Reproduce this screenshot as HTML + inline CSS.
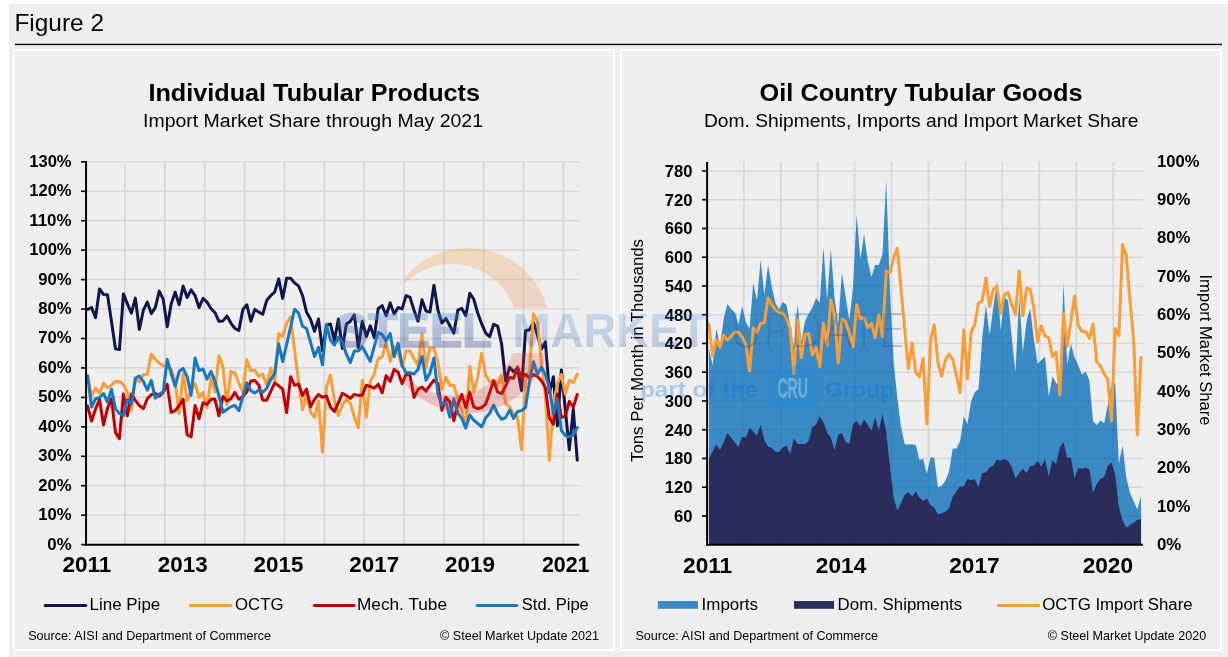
<!DOCTYPE html>
<html lang="en"><head><meta charset="utf-8"><title>Figure 2</title>
<style>
html,body{margin:0;padding:0;background:#fff;}
body{width:1228px;height:657px;overflow:hidden;position:relative;font-family:"Liberation Sans",Arial,sans-serif;}
svg{position:absolute;left:0;top:0;display:block}
text{font-family:"Liberation Sans",Arial,sans-serif;fill:#000}
.b{font-weight:bold}
.grid line{stroke:#d8d8d8;stroke-width:1.6}
.grid line.v{stroke-width:1.9}
.ax{stroke:#000;stroke-width:2;fill:none}
.tk{stroke:#000;stroke-width:1.6}
</style></head><body>
<svg width="1228" height="657" viewBox="0 0 1228 657">
<rect x="9" y="4" width="1219" height="653" fill="#eeeeee"/>
<rect x="15" y="43.75" width="1207" height="1.35" fill="#000"/>
<rect x="14" y="50" width="600" height="600" fill="#eeeeee" stroke="#fff" stroke-width="2"/>
<rect x="621" y="50" width="600" height="600" fill="#eeeeee" stroke="#fff" stroke-width="2"/>

<text font-size="23.6" x="14.4" y="31" textLength="89.7" lengthAdjust="spacingAndGlyphs">Figure 2</text>
<g class="grid">
<line x1="86.05" y1="515.06" x2="579.2" y2="515.06"/>
<line x1="86.05" y1="485.62" x2="579.2" y2="485.62"/>
<line x1="86.05" y1="456.18" x2="579.2" y2="456.18"/>
<line x1="86.05" y1="426.74" x2="579.2" y2="426.74"/>
<line x1="86.05" y1="397.3" x2="579.2" y2="397.3"/>
<line x1="86.05" y1="367.86" x2="579.2" y2="367.86"/>
<line x1="86.05" y1="338.42" x2="579.2" y2="338.42"/>
<line x1="86.05" y1="308.98" x2="579.2" y2="308.98"/>
<line x1="86.05" y1="279.54" x2="579.2" y2="279.54"/>
<line x1="86.05" y1="250.1" x2="579.2" y2="250.1"/>
<line x1="86.05" y1="220.66" x2="579.2" y2="220.66"/>
<line x1="86.05" y1="191.22" x2="579.2" y2="191.22"/>
<line x1="86.05" y1="161.78" x2="579.2" y2="161.78"/>
<line class="v" x1="125.05" y1="161.1" x2="125.05" y2="544.8"/>
<line class="v" x1="164.9" y1="161.1" x2="164.9" y2="544.8"/>
<line class="v" x1="204.75" y1="161.1" x2="204.75" y2="544.8"/>
<line class="v" x1="244.6" y1="161.1" x2="244.6" y2="544.8"/>
<line class="v" x1="284.45" y1="161.1" x2="284.45" y2="544.8"/>
<line class="v" x1="324.3" y1="161.1" x2="324.3" y2="544.8"/>
<line class="v" x1="364.15" y1="161.1" x2="364.15" y2="544.8"/>
<line class="v" x1="404" y1="161.1" x2="404" y2="544.8"/>
<line class="v" x1="443.85" y1="161.1" x2="443.85" y2="544.8"/>
<line class="v" x1="483.7" y1="161.1" x2="483.7" y2="544.8"/>
<line class="v" x1="523.55" y1="161.1" x2="523.55" y2="544.8"/>
<line class="v" x1="563.4" y1="161.1" x2="563.4" y2="544.8"/>
</g>
<g fill="none" stroke-linejoin="round" stroke-linecap="round" stroke-width="3">
<polyline stroke="#10154a" points="87.6,309.4 91.58,307.6 95.56,317.6 99.54,289 103.52,294.4 107.5,294.8 111.49,321.6 115.47,348.7 119.45,349.6 123.43,293.9 127.41,303.9 131.39,313.1 135.37,298.1 139.35,329.5 143.33,310.3 147.31,302.1 151.3,313.6 155.28,307.6 159.26,291.1 163.24,299.4 167.22,326.8 171.2,303.9 175.18,292.1 179.16,304.8 183.14,286 187.12,297.5 191.11,289.9 195.09,295.7 199.07,307.6 203.05,298.4 207.03,302.1 211.01,308.5 214.99,312.7 218.97,321.3 222.95,320.9 226.94,316.1 230.92,323.1 234.9,328.5 238.88,330.4 242.86,309.4 246.84,304.8 250.82,321.2 254.8,309.4 258.78,312.1 262.76,314.3 266.75,300.2 270.73,295.7 274.71,292 278.69,278.9 282.67,298.4 286.65,278.3 290.63,278.3 294.61,282.9 298.59,286 302.57,295.7 306.55,312.1 310.54,319.4 314.52,331.3 318.5,319 322.48,350.5 326.46,324.9 330.44,324 334.42,340.4 338.4,319 342.38,348.6 346.37,324 350.35,321.2 354.33,314.8 358.31,347.7 362.29,321.2 366.27,336.7 370.25,325.8 374.23,337.6 378.21,308.4 382.19,305.7 386.17,315.7 390.16,302.9 394.14,313.9 398.12,307.5 402.1,308.9 406.08,295.6 410.06,297.4 414.04,310.2 418.02,321.2 422,299.8 425.99,311.1 429.97,312.1 433.95,285.2 437.93,310.2 441.91,323 445.89,318.4 449.87,325.8 453.85,333.1 457.83,310.2 461.81,308.4 465.79,315.7 469.78,293.2 473.76,299.3 477.74,313 481.72,323.9 485.7,333.1 489.68,336.7 493.66,324.3 497.64,326.1 501.62,344 505.61,381 509.59,367.3 513.57,371.7 517.55,368.4 521.53,390.5 525.51,330.8 529.49,329.7 533.47,322.3 537.45,335 541.43,349.3 545.41,341.9 549.4,393 553.38,376.8 557.36,425.8 561.34,370 565.32,409.5 569.3,449.8 573.28,409.3 577.26,460.1"/>
<polyline stroke="#f99d38" points="87.6,375.8 91.58,396 95.56,387.8 99.54,393.5 103.52,383.2 107.5,387.8 111.49,385.2 115.47,381.5 119.45,381.5 123.43,384.4 127.41,392.4 131.39,410.6 135.37,379.2 139.35,381.8 143.33,374.7 147.31,374.1 151.3,354.1 155.28,359.3 159.26,363.3 163.24,365.8 167.22,367.3 171.2,369.5 175.18,381 179.16,413.5 183.14,373.5 187.12,400.9 191.11,390.7 195.09,383.2 199.07,397.5 203.05,392.4 207.03,407.8 211.01,378.1 214.99,391.8 218.97,355.8 222.95,366.7 226.94,404.9 230.92,371.3 234.9,373 238.88,383.2 242.86,392.4 246.84,359.8 250.82,370.7 254.8,370.1 258.78,376.4 262.76,374 266.75,385 270.73,368 274.71,381.3 278.69,333.7 282.67,336.2 286.65,323.2 290.63,316.8 294.61,350 298.59,382.4 302.57,409.8 306.55,393.8 310.54,412.1 314.52,417.4 318.5,401.2 322.48,452.1 326.46,387 330.44,375 334.42,400.5 338.4,415.5 342.38,405.2 346.37,399.3 350.35,403.2 354.33,417 358.31,427.8 362.29,380.2 366.27,417.3 370.25,381.4 374.23,374.5 378.21,358.5 382.19,356.8 386.17,342.6 390.16,361.4 394.14,346 398.12,352.8 402.1,366.5 406.08,351.1 410.06,351.1 414.04,358.5 418.02,365.4 422,334 425.99,368.2 429.97,347.1 433.95,348.3 437.93,362.2 441.91,389 445.89,377.3 449.87,385.5 453.85,385.3 457.83,398.4 461.81,410.9 465.79,425.8 469.78,366.4 473.76,392.1 477.74,377.3 481.72,353.2 485.7,375 489.68,381.8 493.66,380.7 497.64,384.7 501.62,375.9 505.61,403.3 509.59,406.7 513.57,413.5 517.55,417.3 521.53,449.8 525.51,381 529.49,370 533.47,313.7 537.45,321.1 541.43,362 545.41,396 549.4,460.6 553.38,404.8 557.36,384.2 561.34,374.5 565.32,394 569.3,380.3 573.28,382.5 577.26,374"/>
<polyline stroke="#c00000" points="87.6,406.1 91.58,421 95.56,409 99.54,399.3 103.52,425 107.5,408.4 111.49,398.7 115.47,432.4 119.45,438.7 123.43,394.1 127.41,415.8 131.39,394.1 135.37,400.4 139.35,405.5 143.33,408.7 147.31,398.7 151.3,394.7 155.28,393.2 159.26,396.1 163.24,392.4 167.22,384.4 171.2,412.4 175.18,410.7 179.16,405.5 183.14,399.3 187.12,434.7 191.11,436.9 195.09,405.5 199.07,418.7 203.05,402.7 207.03,404.4 211.01,399.3 214.99,399.3 218.97,415.8 222.95,396.4 226.94,401 230.92,398.7 234.9,392.4 238.88,399.3 242.86,396.4 246.84,391.8 250.82,381 254.8,380.4 258.78,385 262.76,400.2 266.75,400.2 270.73,391.5 274.71,383 278.69,385.8 282.67,389 286.65,412.6 290.63,376.7 294.61,385.3 298.59,384.1 302.57,395.5 306.55,389 310.54,406.9 314.52,399.5 318.5,394.4 322.48,397.2 326.46,396.1 330.44,406.9 334.42,411.5 338.4,402.9 342.38,393.2 346.37,395.5 350.35,398.4 354.33,394.4 358.31,395.4 362.29,395.1 366.27,385.4 370.25,386.5 374.23,388.2 378.21,384.2 382.19,392.8 386.17,375.7 390.16,381.4 394.14,369.4 398.12,372.2 402.1,383.7 406.08,374 410.06,375.7 414.04,397.4 418.02,389.4 422,387.1 425.99,391.1 429.97,385.3 433.95,380.1 437.93,383.5 441.91,410.4 445.89,397.3 449.87,401.9 453.85,420.6 457.83,404.1 461.81,394.4 465.79,407.5 469.78,392.1 473.76,406.9 477.74,408.7 481.72,407.5 485.7,404.1 489.68,392.7 493.66,380.7 497.64,392.1 501.62,393.6 505.61,386.2 509.59,377.3 513.57,378.4 517.55,367 521.53,378.4 525.51,374.4 529.49,377.9 533.47,374.5 537.45,376.5 541.43,380.8 545.41,387.7 549.4,417.9 553.38,424.2 557.36,393.9 561.34,417.4 565.32,416.2 569.3,401.4 573.28,407.1 577.26,394.5"/>
<polyline stroke="#1777c0" points="87.6,375.8 91.58,407.2 95.56,398.7 99.54,397.7 103.52,393.5 107.5,402.1 111.49,389.3 115.47,408.9 119.45,413.5 123.43,415.5 127.41,399.6 131.39,403.8 135.37,378.3 139.35,376.1 143.33,381.3 147.31,390.1 151.3,380.4 155.28,398.1 159.26,394.1 163.24,391.8 167.22,359.3 171.2,373.5 175.18,386.4 179.16,371.5 183.14,368.4 187.12,376.4 191.11,395.2 195.09,358.1 199.07,370.7 203.05,369 207.03,379.2 211.01,371.3 214.99,381.5 218.97,395.8 222.95,412.4 226.94,409.5 230.92,406.6 234.9,405.5 238.88,410.6 242.86,396.4 246.84,382.7 250.82,390.7 254.8,392.9 258.78,390.1 262.76,392.2 266.75,388.3 270.73,379.4 274.71,373.8 278.69,344 282.67,361.6 286.65,344.3 290.63,326.8 294.61,309.2 298.59,313.1 302.57,326.3 306.55,328.5 310.54,342.2 314.52,356.5 318.5,347.4 322.48,364.8 326.46,324.5 330.44,340 334.42,345.1 338.4,337.1 342.38,342.2 346.37,354.2 350.35,362.6 354.33,351 358.31,351 362.29,346.6 366.27,354 370.25,361.4 374.23,346.6 378.21,332.3 382.19,334.6 386.17,340.8 390.16,333.4 394.14,356.8 398.12,343.1 402.1,365.4 406.08,372.8 410.06,372.8 414.04,374 418.02,369.4 422,356.3 425.99,380.2 429.97,373 433.95,358 437.93,393.8 441.91,405.2 445.89,401.8 449.87,417.2 453.85,399 457.83,413.2 461.81,418.4 465.79,428.1 469.78,414.9 473.76,420.1 477.74,423.5 481.72,426.9 485.7,417.8 489.68,413.2 493.66,405.2 497.64,413.8 501.62,419.3 505.61,417.6 509.59,410.1 513.57,418.4 517.55,411.5 521.53,410.6 525.51,407.5 529.49,381.7 533.47,361.8 537.45,374.5 541.43,367.3 545.41,374.5 549.4,387.7 553.38,413.9 557.36,399 561.34,430.4 565.32,435.5 569.3,436.7 573.28,435 577.26,427.5"/>
</g>
<line class="ax" x1="86.05" y1="161.1" x2="86.05" y2="545.8"/>
<line class="ax" x1="85.05" y1="544.8" x2="579.2" y2="544.8"/>
<line class="tk" x1="81.1" y1="544.6" x2="86" y2="544.6"/>
<text class="b" font-size="16" text-anchor="end" x="71.6" y="549.5" textLength="24.3" lengthAdjust="spacingAndGlyphs">0%</text>
<line class="tk" x1="81.1" y1="515.16" x2="86" y2="515.16"/>
<text class="b" font-size="16" text-anchor="end" x="71.6" y="520.06" textLength="33.4" lengthAdjust="spacingAndGlyphs">10%</text>
<line class="tk" x1="81.1" y1="485.72" x2="86" y2="485.72"/>
<text class="b" font-size="16" text-anchor="end" x="71.6" y="490.62" textLength="33.4" lengthAdjust="spacingAndGlyphs">20%</text>
<line class="tk" x1="81.1" y1="456.28" x2="86" y2="456.28"/>
<text class="b" font-size="16" text-anchor="end" x="71.6" y="461.18" textLength="33.4" lengthAdjust="spacingAndGlyphs">30%</text>
<line class="tk" x1="81.1" y1="426.84" x2="86" y2="426.84"/>
<text class="b" font-size="16" text-anchor="end" x="71.6" y="431.74" textLength="33.4" lengthAdjust="spacingAndGlyphs">40%</text>
<line class="tk" x1="81.1" y1="397.4" x2="86" y2="397.4"/>
<text class="b" font-size="16" text-anchor="end" x="71.6" y="402.3" textLength="33.4" lengthAdjust="spacingAndGlyphs">50%</text>
<line class="tk" x1="81.1" y1="367.96" x2="86" y2="367.96"/>
<text class="b" font-size="16" text-anchor="end" x="71.6" y="372.86" textLength="33.4" lengthAdjust="spacingAndGlyphs">60%</text>
<line class="tk" x1="81.1" y1="338.52" x2="86" y2="338.52"/>
<text class="b" font-size="16" text-anchor="end" x="71.6" y="343.42" textLength="33.4" lengthAdjust="spacingAndGlyphs">70%</text>
<line class="tk" x1="81.1" y1="309.08" x2="86" y2="309.08"/>
<text class="b" font-size="16" text-anchor="end" x="71.6" y="313.98" textLength="33.4" lengthAdjust="spacingAndGlyphs">80%</text>
<line class="tk" x1="81.1" y1="279.64" x2="86" y2="279.64"/>
<text class="b" font-size="16" text-anchor="end" x="71.6" y="284.54" textLength="33.4" lengthAdjust="spacingAndGlyphs">90%</text>
<line class="tk" x1="81.1" y1="250.2" x2="86" y2="250.2"/>
<text class="b" font-size="16" text-anchor="end" x="71.6" y="255.1" textLength="42.4" lengthAdjust="spacingAndGlyphs">100%</text>
<line class="tk" x1="81.1" y1="220.76" x2="86" y2="220.76"/>
<text class="b" font-size="16" text-anchor="end" x="71.6" y="225.66" textLength="42.4" lengthAdjust="spacingAndGlyphs">110%</text>
<line class="tk" x1="81.1" y1="191.32" x2="86" y2="191.32"/>
<text class="b" font-size="16" text-anchor="end" x="71.6" y="196.22" textLength="42.4" lengthAdjust="spacingAndGlyphs">120%</text>
<line class="tk" x1="81.1" y1="161.88" x2="86" y2="161.88"/>
<text class="b" font-size="16" text-anchor="end" x="71.6" y="166.78" textLength="42.4" lengthAdjust="spacingAndGlyphs">130%</text>
<text class="b" font-size="21.6" text-anchor="middle" x="87" y="572.2" textLength="48.8" lengthAdjust="spacingAndGlyphs">2011</text>
<text class="b" font-size="21.6" text-anchor="middle" x="182.74" y="572.2" textLength="49.8" lengthAdjust="spacingAndGlyphs">2013</text>
<text class="b" font-size="21.6" text-anchor="middle" x="278.49" y="572.2" textLength="49.8" lengthAdjust="spacingAndGlyphs">2015</text>
<text class="b" font-size="21.6" text-anchor="middle" x="374.23" y="572.2" textLength="49.8" lengthAdjust="spacingAndGlyphs">2017</text>
<text class="b" font-size="21.6" text-anchor="middle" x="469.98" y="572.2" textLength="49.8" lengthAdjust="spacingAndGlyphs">2019</text>
<text class="b" font-size="21.6" text-anchor="middle" x="565.72" y="572.2" textLength="47.6" lengthAdjust="spacingAndGlyphs">2021</text>
<text class="b" font-size="24" x="148.4" y="100.7" textLength="331.61" lengthAdjust="spacingAndGlyphs">Individual Tubular Products</text>
<text font-size="17.6" x="143" y="127.2" textLength="340.01" lengthAdjust="spacingAndGlyphs">Import Market Share through May 2021</text>
<line x1="45.2" y1="605.4" x2="85.8" y2="605.4" stroke="#10154a" stroke-width="3" stroke-linecap="round"/>
<text font-size="16" x="89.6" y="610.2" textLength="70.63" lengthAdjust="spacingAndGlyphs">Line Pipe</text>
<line x1="190.3" y1="605.4" x2="230.8" y2="605.4" stroke="#f99d38" stroke-width="3" stroke-linecap="round"/>
<text font-size="16" x="235" y="610.2" textLength="48.43" lengthAdjust="spacingAndGlyphs">OCTG</text>
<line x1="314.3" y1="605.4" x2="354.1" y2="605.4" stroke="#c00000" stroke-width="3" stroke-linecap="round"/>
<text font-size="16" x="357" y="610.2" textLength="90.02" lengthAdjust="spacingAndGlyphs">Mech. Tube</text>
<line x1="477.1" y1="605.4" x2="516.8" y2="605.4" stroke="#1777c0" stroke-width="3" stroke-linecap="round"/>
<text font-size="16" x="521.8" y="610.2" textLength="67" lengthAdjust="spacingAndGlyphs">Std. Pipe</text>
<text font-size="12.4" x="28.2" y="639.6" textLength="242.8" lengthAdjust="spacingAndGlyphs">Source: AISI and Department of Commerce</text>
<text font-size="12.4" x="440" y="639.6" textLength="159" lengthAdjust="spacingAndGlyphs">© Steel Market Update 2021</text>
<g class="grid">
<line x1="707.1" y1="516" x2="1142.9" y2="516"/>
<line x1="707.1" y1="487.24" x2="1142.9" y2="487.24"/>
<line x1="707.1" y1="458.49" x2="1142.9" y2="458.49"/>
<line x1="707.1" y1="429.73" x2="1142.9" y2="429.73"/>
<line x1="707.1" y1="400.98" x2="1142.9" y2="400.98"/>
<line x1="707.1" y1="372.23" x2="1142.9" y2="372.23"/>
<line x1="707.1" y1="343.47" x2="1142.9" y2="343.47"/>
<line x1="707.1" y1="314.72" x2="1142.9" y2="314.72"/>
<line x1="707.1" y1="285.96" x2="1142.9" y2="285.96"/>
<line x1="707.1" y1="257.21" x2="1142.9" y2="257.21"/>
<line x1="707.1" y1="228.46" x2="1142.9" y2="228.46"/>
<line x1="707.1" y1="199.7" x2="1142.9" y2="199.7"/>
<line x1="707.1" y1="170.95" x2="1142.9" y2="170.95"/>
<line class="v" x1="743.88" y1="161.7" x2="743.88" y2="544.8"/>
<line class="v" x1="780.81" y1="161.7" x2="780.81" y2="544.8"/>
<line class="v" x1="817.74" y1="161.7" x2="817.74" y2="544.8"/>
<line class="v" x1="854.67" y1="161.7" x2="854.67" y2="544.8"/>
<line class="v" x1="891.6" y1="161.7" x2="891.6" y2="544.8"/>
<line class="v" x1="928.53" y1="161.7" x2="928.53" y2="544.8"/>
<line class="v" x1="965.46" y1="161.7" x2="965.46" y2="544.8"/>
<line class="v" x1="1002.39" y1="161.7" x2="1002.39" y2="544.8"/>
<line class="v" x1="1039.32" y1="161.7" x2="1039.32" y2="544.8"/>
<line class="v" x1="1076.25" y1="161.7" x2="1076.25" y2="544.8"/>
<line class="v" x1="1113.18" y1="161.7" x2="1113.18" y2="544.8"/>
</g>
<polygon fill="#3a8ac5" fill-opacity="1" points="708.95,544.8 708.95,347.9 712.64,365.6 716.33,328.5 720.03,345.7 723.72,318.8 727.41,304 731.11,309.1 734.8,312.6 738.49,324.5 742.19,306.3 745.88,322.3 749.57,328.5 753.27,283 756.96,300.3 760.65,260.1 764.34,294.8 768.04,264.7 771.73,286.6 775.42,303.1 779.12,309.5 782.81,301.9 786.5,304.7 790.2,325.5 793.89,347 797.58,304 801.28,342 804.97,321.4 808.66,313.4 812.36,307.7 816.05,298 819.74,303.1 823.44,247.5 827.13,299.7 830.82,249 834.52,297.4 838.21,325 841.9,272.6 845.6,296.3 849.29,320.2 852.98,288 856.68,214.7 860.37,259.5 864.06,233.9 867.76,261 871.45,277 875.14,265 878.83,265 882.53,254 886.22,180 889.91,290 893.61,361.5 897.3,397.5 900.99,426.7 904.69,444.3 908.38,444.6 912.07,444.2 915.77,445 919.46,460 923.15,459 926.85,473.8 930.54,457.6 934.23,457.4 937.93,487.5 941.62,485.7 945.31,481 949.01,472 952.7,448.4 956.39,448.5 960.09,441 963.78,416.7 967.47,424 971.17,401 974.86,392 978.55,389.3 982.24,338 985.94,304.7 989.63,334.9 993.32,307.5 997.02,281 1000.71,330.3 1004.4,297.5 1008.1,300.5 1011.79,338 1015.48,372 1019.18,296.6 1022.87,352.8 1026.56,321 1030.26,308.5 1033.95,340 1037.64,363.8 1041.34,360 1045.03,356.5 1048.72,396.7 1052.42,376.6 1056.11,383 1059.8,386 1063.5,283 1067.19,364.7 1070.88,343.5 1074.58,357.4 1078.27,365.6 1081.96,374.7 1085.66,371.6 1089.35,380.2 1093.04,421.3 1096.73,425 1100.43,420.4 1104.12,423.2 1107.81,404.9 1111.51,384.8 1115.2,383 1118.89,463.8 1122.59,445.5 1126.28,477.5 1129.97,493 1133.67,501.2 1137.36,509.5 1141.05,495.8 1141.05,544.8"/>
<polygon fill="#2b2e5c" fill-opacity="1" points="708.95,544.8 708.95,458.5 712.64,451.2 716.33,444.4 720.03,449.9 723.72,442 727.41,432.9 731.11,437.5 734.8,442.4 738.49,447 742.19,436.6 745.88,437.9 749.57,427.8 753.27,431.6 756.96,435.7 760.65,424.5 764.34,440.2 768.04,446.6 771.73,448 775.42,451.7 779.12,452.1 782.81,447.5 786.5,445.7 790.2,453.9 793.89,438.4 797.58,443.9 801.28,443.9 804.97,443.9 808.66,441.1 812.36,426.9 816.05,424.7 819.74,416.8 823.44,422 827.13,432.4 830.82,437.5 834.52,450.3 838.21,434.7 841.9,432.9 845.6,441.7 849.29,443.9 852.98,424.3 856.68,421 860.37,426.6 864.06,419.4 867.76,424.9 871.45,430.4 875.14,417.6 878.83,430.4 882.53,414 886.22,432 889.91,466.5 893.61,497.6 897.3,510.4 900.99,503 904.69,494.8 908.38,492 912.07,496.7 915.77,491.2 919.46,497.6 923.15,500.9 926.85,498.5 930.54,504.9 934.23,507.6 937.93,514.6 941.62,513 945.31,511.8 949.01,508.5 952.7,496.7 956.39,491.2 960.09,486.3 963.78,486.6 967.47,479 971.17,480.2 974.86,479.3 978.55,487.5 982.24,473 985.94,472.4 989.63,467.4 993.32,465.6 997.02,459.2 1000.71,460.8 1004.4,458.7 1008.1,461 1011.79,467 1015.48,478.4 1019.18,473 1022.87,468.7 1026.56,473 1030.26,466.2 1033.95,465.6 1037.64,460.7 1041.34,466.5 1045.03,458.9 1048.72,476.2 1052.42,460.1 1056.11,464.3 1059.8,447.4 1063.5,441.9 1067.19,457.8 1070.88,457.4 1074.58,478.4 1078.27,468 1081.96,468.7 1085.66,467.8 1089.35,469.3 1093.04,492.6 1096.73,483.9 1100.43,479 1104.12,477.1 1107.81,465.6 1111.51,462.5 1115.2,474.7 1118.89,506.7 1122.59,520.4 1126.28,527.7 1129.97,525 1133.67,522.6 1137.36,519.9 1141.05,519 1141.05,544.8"/>
<clipPath id="ca"><polygon points="708.95,544.8 708.95,347.9 712.64,365.6 716.33,328.5 720.03,345.7 723.72,318.8 727.41,304 731.11,309.1 734.8,312.6 738.49,324.5 742.19,306.3 745.88,322.3 749.57,328.5 753.27,283 756.96,300.3 760.65,260.1 764.34,294.8 768.04,264.7 771.73,286.6 775.42,303.1 779.12,309.5 782.81,301.9 786.5,304.7 790.2,325.5 793.89,347 797.58,304 801.28,342 804.97,321.4 808.66,313.4 812.36,307.7 816.05,298 819.74,303.1 823.44,247.5 827.13,299.7 830.82,249 834.52,297.4 838.21,325 841.9,272.6 845.6,296.3 849.29,320.2 852.98,288 856.68,214.7 860.37,259.5 864.06,233.9 867.76,261 871.45,277 875.14,265 878.83,265 882.53,254 886.22,180 889.91,290 893.61,361.5 897.3,397.5 900.99,426.7 904.69,444.3 908.38,444.6 912.07,444.2 915.77,445 919.46,460 923.15,459 926.85,473.8 930.54,457.6 934.23,457.4 937.93,487.5 941.62,485.7 945.31,481 949.01,472 952.7,448.4 956.39,448.5 960.09,441 963.78,416.7 967.47,424 971.17,401 974.86,392 978.55,389.3 982.24,338 985.94,304.7 989.63,334.9 993.32,307.5 997.02,281 1000.71,330.3 1004.4,297.5 1008.1,300.5 1011.79,338 1015.48,372 1019.18,296.6 1022.87,352.8 1026.56,321 1030.26,308.5 1033.95,340 1037.64,363.8 1041.34,360 1045.03,356.5 1048.72,396.7 1052.42,376.6 1056.11,383 1059.8,386 1063.5,283 1067.19,364.7 1070.88,343.5 1074.58,357.4 1078.27,365.6 1081.96,374.7 1085.66,371.6 1089.35,380.2 1093.04,421.3 1096.73,425 1100.43,420.4 1104.12,423.2 1107.81,404.9 1111.51,384.8 1115.2,383 1118.89,463.8 1122.59,445.5 1126.28,477.5 1129.97,493 1133.67,501.2 1137.36,509.5 1141.05,495.8 1141.05,544.8"/></clipPath>
<g clip-path="url(#ca)" stroke="#000" stroke-opacity="0.045" stroke-width="1.5">
<line x1="707.1" y1="516" x2="1142.9" y2="516"/>
<line x1="707.1" y1="487.24" x2="1142.9" y2="487.24"/>
<line x1="707.1" y1="458.49" x2="1142.9" y2="458.49"/>
<line x1="707.1" y1="429.73" x2="1142.9" y2="429.73"/>
<line x1="707.1" y1="400.98" x2="1142.9" y2="400.98"/>
<line x1="707.1" y1="372.23" x2="1142.9" y2="372.23"/>
<line x1="707.1" y1="343.47" x2="1142.9" y2="343.47"/>
<line x1="707.1" y1="314.72" x2="1142.9" y2="314.72"/>
<line x1="707.1" y1="285.96" x2="1142.9" y2="285.96"/>
<line x1="707.1" y1="257.21" x2="1142.9" y2="257.21"/>
<line x1="707.1" y1="228.46" x2="1142.9" y2="228.46"/>
<line x1="707.1" y1="199.7" x2="1142.9" y2="199.7"/>
<line x1="707.1" y1="170.95" x2="1142.9" y2="170.95"/>
<line class="v" x1="743.88" y1="161.7" x2="743.88" y2="544.8"/>
<line class="v" x1="780.81" y1="161.7" x2="780.81" y2="544.8"/>
<line class="v" x1="817.74" y1="161.7" x2="817.74" y2="544.8"/>
<line class="v" x1="854.67" y1="161.7" x2="854.67" y2="544.8"/>
<line class="v" x1="891.6" y1="161.7" x2="891.6" y2="544.8"/>
<line class="v" x1="928.53" y1="161.7" x2="928.53" y2="544.8"/>
<line class="v" x1="965.46" y1="161.7" x2="965.46" y2="544.8"/>
<line class="v" x1="1002.39" y1="161.7" x2="1002.39" y2="544.8"/>
<line class="v" x1="1039.32" y1="161.7" x2="1039.32" y2="544.8"/>
<line class="v" x1="1076.25" y1="161.7" x2="1076.25" y2="544.8"/>
<line class="v" x1="1113.18" y1="161.7" x2="1113.18" y2="544.8"/>
</g>
<polyline fill="none" stroke="#f99d38" stroke-width="3" stroke-linejoin="round" stroke-linecap="round" points="708.95,324.5 712.64,355.9 716.33,339.4 720.03,347.4 723.72,335.4 727.41,340 731.11,336.5 734.8,332 738.49,332 742.19,337.1 745.88,344.5 749.57,370.8 753.27,328 756.96,332.5 760.65,323.4 764.34,322.8 768.04,298 771.73,304.4 775.42,309.6 779.12,312.8 782.81,313.1 786.5,319.4 790.2,328.5 793.89,374 797.58,319.5 801.28,357.7 804.97,334.6 808.66,333.8 812.36,354.8 816.05,347.4 819.74,366.8 823.44,323 827.13,345.7 830.82,299.9 834.52,315.7 838.21,362.8 841.9,319 845.6,321.7 849.29,333.2 852.98,346.8 856.68,304.8 860.37,318.7 864.06,317.5 867.76,327.5 871.45,323.2 875.14,337.7 878.83,315 882.53,336.7 886.22,271 889.91,272.4 893.61,258 897.3,248.2 900.99,288.3 904.69,328.5 908.38,368.7 912.07,343.1 915.77,372.3 919.46,376.9 923.15,358.4 926.85,424 930.54,340.4 934.23,324.8 937.93,362.5 941.62,376.2 945.31,360.5 949.01,354 952.7,359.5 956.39,375 960.09,392.9 963.78,329.8 967.47,379 971.17,332 974.86,324 978.55,303 982.24,301 985.94,277.9 989.63,306.6 993.32,289.2 997.02,286.5 1000.71,313 1004.4,294.7 1008.1,292.3 1011.79,304.8 1015.48,314.6 1019.18,271 1022.87,315.8 1026.56,288.1 1030.26,289.4 1033.95,308.5 1037.64,342.5 1041.34,325.9 1045.03,336.1 1048.72,337.5 1052.42,356.5 1056.11,351.9 1059.8,394.8 1063.5,313.1 1067.19,346.6 1070.88,321.3 1074.58,296.1 1078.27,325 1081.96,331.4 1085.66,331.4 1089.35,338.4 1093.04,324 1096.73,362 1100.43,365.6 1104.12,373.8 1107.81,379.3 1111.51,421.3 1115.2,328.6 1118.89,335.7 1122.59,244.6 1126.28,255.6 1129.97,299.4 1133.67,339.8 1137.36,435 1141.05,357.4"/>
<line class="ax" x1="707.1" y1="161.9" x2="707.1" y2="545.8"/>
<line class="ax" x1="706.1" y1="544.8" x2="1142.9" y2="544.8"/>
<line class="tk" x1="702" y1="516" x2="707" y2="516"/>
<text class="b" font-size="16" text-anchor="end" x="692.6" y="522" textLength="18.5" lengthAdjust="spacingAndGlyphs">60</text>
<line class="tk" x1="702" y1="487.24" x2="707" y2="487.24"/>
<text class="b" font-size="16" text-anchor="end" x="692.6" y="493.24" textLength="27.75" lengthAdjust="spacingAndGlyphs">120</text>
<line class="tk" x1="702" y1="458.49" x2="707" y2="458.49"/>
<text class="b" font-size="16" text-anchor="end" x="692.6" y="464.49" textLength="27.75" lengthAdjust="spacingAndGlyphs">180</text>
<line class="tk" x1="702" y1="429.73" x2="707" y2="429.73"/>
<text class="b" font-size="16" text-anchor="end" x="692.6" y="435.73" textLength="27.75" lengthAdjust="spacingAndGlyphs">240</text>
<line class="tk" x1="702" y1="400.98" x2="707" y2="400.98"/>
<text class="b" font-size="16" text-anchor="end" x="692.6" y="406.98" textLength="27.75" lengthAdjust="spacingAndGlyphs">300</text>
<line class="tk" x1="702" y1="372.23" x2="707" y2="372.23"/>
<text class="b" font-size="16" text-anchor="end" x="692.6" y="378.23" textLength="27.75" lengthAdjust="spacingAndGlyphs">360</text>
<line class="tk" x1="702" y1="343.47" x2="707" y2="343.47"/>
<text class="b" font-size="16" text-anchor="end" x="692.6" y="349.47" textLength="27.75" lengthAdjust="spacingAndGlyphs">420</text>
<line class="tk" x1="702" y1="314.72" x2="707" y2="314.72"/>
<text class="b" font-size="16" text-anchor="end" x="692.6" y="320.72" textLength="27.75" lengthAdjust="spacingAndGlyphs">480</text>
<line class="tk" x1="702" y1="285.96" x2="707" y2="285.96"/>
<text class="b" font-size="16" text-anchor="end" x="692.6" y="291.96" textLength="27.75" lengthAdjust="spacingAndGlyphs">540</text>
<line class="tk" x1="702" y1="257.21" x2="707" y2="257.21"/>
<text class="b" font-size="16" text-anchor="end" x="692.6" y="263.21" textLength="27.75" lengthAdjust="spacingAndGlyphs">600</text>
<line class="tk" x1="702" y1="228.46" x2="707" y2="228.46"/>
<text class="b" font-size="16" text-anchor="end" x="692.6" y="234.46" textLength="27.75" lengthAdjust="spacingAndGlyphs">660</text>
<line class="tk" x1="702" y1="199.7" x2="707" y2="199.7"/>
<text class="b" font-size="16" text-anchor="end" x="692.6" y="205.7" textLength="27.75" lengthAdjust="spacingAndGlyphs">720</text>
<line class="tk" x1="702" y1="170.95" x2="707" y2="170.95"/>
<text class="b" font-size="16" text-anchor="end" x="692.6" y="176.95" textLength="27.75" lengthAdjust="spacingAndGlyphs">780</text>
<text class="b" font-size="16" x="1157" y="549.8" textLength="24.3" lengthAdjust="spacingAndGlyphs">0%</text>
<text class="b" font-size="16" x="1157" y="511.51" textLength="33.4" lengthAdjust="spacingAndGlyphs">10%</text>
<text class="b" font-size="16" x="1157" y="473.22" textLength="33.4" lengthAdjust="spacingAndGlyphs">20%</text>
<text class="b" font-size="16" x="1157" y="434.93" textLength="33.4" lengthAdjust="spacingAndGlyphs">30%</text>
<text class="b" font-size="16" x="1157" y="396.64" textLength="33.4" lengthAdjust="spacingAndGlyphs">40%</text>
<text class="b" font-size="16" x="1157" y="358.35" textLength="33.4" lengthAdjust="spacingAndGlyphs">50%</text>
<text class="b" font-size="16" x="1157" y="320.06" textLength="33.4" lengthAdjust="spacingAndGlyphs">60%</text>
<text class="b" font-size="16" x="1157" y="281.77" textLength="33.4" lengthAdjust="spacingAndGlyphs">70%</text>
<text class="b" font-size="16" x="1157" y="243.48" textLength="33.4" lengthAdjust="spacingAndGlyphs">80%</text>
<text class="b" font-size="16" x="1157" y="205.19" textLength="33.4" lengthAdjust="spacingAndGlyphs">90%</text>
<text class="b" font-size="16" x="1157" y="166.9" textLength="42.4" lengthAdjust="spacingAndGlyphs">100%</text>
<text class="b" font-size="21.6" text-anchor="middle" x="707.65" y="573.4" textLength="49.2" lengthAdjust="spacingAndGlyphs">2011</text>
<text class="b" font-size="21.6" text-anchor="middle" x="841.05" y="573.4" textLength="50.4" lengthAdjust="spacingAndGlyphs">2014</text>
<text class="b" font-size="21.6" text-anchor="middle" x="974.46" y="573.4" textLength="50.4" lengthAdjust="spacingAndGlyphs">2017</text>
<text class="b" font-size="21.6" text-anchor="middle" x="1107.86" y="573.4" textLength="50.4" lengthAdjust="spacingAndGlyphs">2020</text>
<text class="b" font-size="24" x="759.6" y="100.7" textLength="323.01" lengthAdjust="spacingAndGlyphs">Oil Country Tubular Goods</text>
<text font-size="17.6" x="704" y="127.2" textLength="434.4" lengthAdjust="spacingAndGlyphs">Dom. Shipments, Imports and Import Market Share</text>
<text font-size="16.6" text-anchor="middle" transform="translate(643.2,350.5) rotate(-90)" textLength="223" lengthAdjust="spacingAndGlyphs">Tons Per Month in Thousands</text>
<text font-size="16.2" text-anchor="middle" transform="translate(1199.6,350) rotate(90)" textLength="151" lengthAdjust="spacingAndGlyphs">Import Market Share</text>
<rect x="657.8" y="601" width="40.2" height="7.8" fill="#3a8ac5"/>
<text font-size="16" x="701.6" y="610.2" textLength="56.45" lengthAdjust="spacingAndGlyphs">Imports</text>
<rect x="794" y="601" width="40" height="7.8" fill="#2b2e5c"/>
<text font-size="16" x="837.6" y="610.2" textLength="124.63" lengthAdjust="spacingAndGlyphs">Dom. Shipments</text>
<line x1="998.3" y1="605.4" x2="1038.6" y2="605.4" stroke="#f99d38" stroke-width="3" stroke-linecap="round"/>
<text font-size="16" x="1042.2" y="610.2" textLength="150.41" lengthAdjust="spacingAndGlyphs">OCTG Import Share</text>
<text font-size="12.4" x="635.4" y="639.6" textLength="242.61" lengthAdjust="spacingAndGlyphs">Source: AISI and Department of Commerce</text>
<text font-size="12.4" x="1047.8" y="639.6" textLength="158.4" lengthAdjust="spacingAndGlyphs">© Steel Market Update 2020</text>
<defs>
<linearGradient id="gt" x1="0" y1="312" x2="0" y2="348" gradientUnits="userSpaceOnUse"><stop offset="0" stop-color="#4f8fd0"/><stop offset="1" stop-color="#343f88"/></linearGradient>
<linearGradient id="gm" x1="0" y1="312" x2="0" y2="348" gradientUnits="userSpaceOnUse"><stop offset="0" stop-color="#3f8fe0"/><stop offset="1" stop-color="#2f4a9a"/></linearGradient>
<linearGradient id="gu" x1="0" y1="312" x2="0" y2="348" gradientUnits="userSpaceOnUse"><stop offset="0" stop-color="#3f74b4"/><stop offset="1" stop-color="#2f3a80"/></linearGradient>
<linearGradient id="gr" x1="0" y1="248" x2="0" y2="413" gradientUnits="userSpaceOnUse"><stop offset="0" stop-color="#f59a2a"/><stop offset="0.36" stop-color="#ee7648"/><stop offset="1" stop-color="#d92a2a"/></linearGradient>
<clipPath id="cr"><rect x="404" y="240" width="160" height="67.7"/><rect x="404" y="353" width="160" height="70"/></clipPath>
</defs>
<g id="wm">
<path clip-path="url(#cr)" fill="url(#gr)" fill-opacity="0.24" fill-rule="evenodd" d="M385.4,330.4a82.6,82.6 0 1,0 165.2,0a82.6,82.6 0 1,0 -165.2,0Z M386.1,329.7a65.7,65.7 0 1,0 131.4,0a65.7,65.7 0 1,0 -131.4,0Z"/>
<g opacity="0.34"><text class="b" x="335.6" y="347.3" font-size="47.5" textLength="156.4" lengthAdjust="spacingAndGlyphs" style="fill:url(#gt);stroke:url(#gt);stroke-width:1.6;stroke-linejoin:round">STEEL</text></g>
<g opacity="0.23"><text class="b" x="512.5" y="347.3" font-size="47.5" textLength="195" lengthAdjust="spacingAndGlyphs" style="fill:url(#gm)">MARKET</text></g>
<text x="729.5" y="347.3" font-size="45.5" textLength="176.5" lengthAdjust="spacingAndGlyphs" style="fill:url(#gu);font-family:'DejaVu Sans Light','DejaVu Sans','Liberation Sans',sans-serif;font-weight:200" fill-opacity="0.3">UPDATE</text>
<text class="b" x="640" y="396.8" font-size="22" textLength="118.5" lengthAdjust="spacingAndGlyphs" style="fill:#0066d9" fill-opacity="0.28">part of the</text>
<rect x="768.6" y="365.4" width="48.4" height="45" rx="4" fill="#1f8ad8" fill-opacity="0.3"/>
<text class="b" x="777.4" y="398.3" font-size="29.5" textLength="30.5" lengthAdjust="spacingAndGlyphs" style="fill:#ffffff" fill-opacity="0.3">CRU</text>
<text class="b" x="825" y="396.8" font-size="22" textLength="69" lengthAdjust="spacingAndGlyphs" style="fill:#0066d9" fill-opacity="0.28">Group</text>
</g>
</svg></body></html>
